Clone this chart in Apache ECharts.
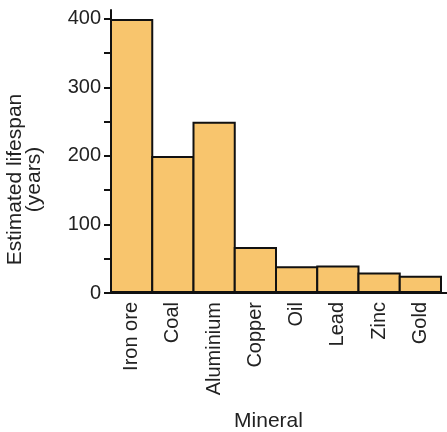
<!DOCTYPE html>
<html>
<head>
<meta charset="utf-8">
<script src="https://cdn.jsdelivr.net/npm/echarts@6/dist/echarts.min.js"></script>
<style>
  html, body { margin: 0; padding: 0; background: #fff; }
  #chart { width: 447px; height: 432px; }
</style>
</head>
<body>
<div id="chart"></div>
<script>
// Estimated remaining lifespan of mineral reserves (years)
const minerals = ['Iron ore', 'Coal', 'Aluminium', 'Copper', 'Oil', 'Lead', 'Zinc', 'Gold'];
const lifespanYears = [400, 200, 250, 67, 39, 40, 30, 25];
const yLabelValues = [0, 100, 200, 300, 400];
const yTickValues = [0, 50, 100, 150, 200, 250, 300, 350, 400];

const FONT = 'Liberation Sans, Arial, Helvetica, sans-serif';
const INK = '#111111';

const grid = { left: 111, right: 6, top: 10, bottom: 139, outerBoundsMode: 'none', containLabel: false };
// adjacent bars share one outline, so each bar is widened by the border width
const categoryWidth = (447 - grid.left - grid.right) / minerals.length;

const chart = echarts.init(document.getElementById('chart'), null, { renderer: 'canvas' });

chart.setOption({
  animation: false,
  backgroundColor: '#ffffff',
  grid: grid,
  xAxis: {
    type: 'category',
    data: minerals,
    name: 'Mineral',
    nameLocation: 'middle',
    nameGap: 118,
    nameTextStyle: { fontFamily: FONT, fontSize: 21, color: '#222', padding: [0, 15, 0, 0] },
    axisLine: { show: true, lineStyle: { color: INK, width: 2 } },
    axisTick: { show: false },
    axisLabel: {
      rotate: 90,
      margin: 9,
      fontFamily: FONT,
      fontSize: 20,
      color: '#222',
      interval: 0
    },
    splitLine: { show: false }
  },
  yAxis: {
    type: 'value',
    min: 0,
    max: 413,
    name: 'Estimated lifespan\n(years)',
    nameLocation: 'middle',
    nameGap: 67,
    nameTextStyle: {
      fontFamily: FONT, fontSize: 21, color: '#222', lineHeight: 19,
      padding: [0, 56, 0, 0]
    },
    axisLine: { show: true, lineStyle: { color: INK, width: 2 } },
    axisTick: {
      show: true,
      inside: false,
      length: 7,
      customValues: yTickValues,
      lineStyle: { color: INK, width: 2 }
    },
    axisLabel: {
      customValues: yLabelValues,
      margin: 10,
      fontFamily: FONT,
      fontSize: 20,
      color: '#222'
    },
    splitLine: { show: false }
  },
  series: [{
    type: 'bar',
    data: lifespanYears,
    barWidth: categoryWidth + 2,
    itemStyle: {
      color: '#f8c56d',
      borderColor: INK,
      borderWidth: 2
    }
  }],
  graphic: [{
    // short continuation of the baseline past the last bar
    type: 'line',
    shape: { x1: 447 - grid.right, y1: 432 - grid.bottom, x2: 447, y2: 432 - grid.bottom },
    style: { stroke: INK, lineWidth: 2 },
    z: 10
  }]
});
</script>
</body>
</html>
